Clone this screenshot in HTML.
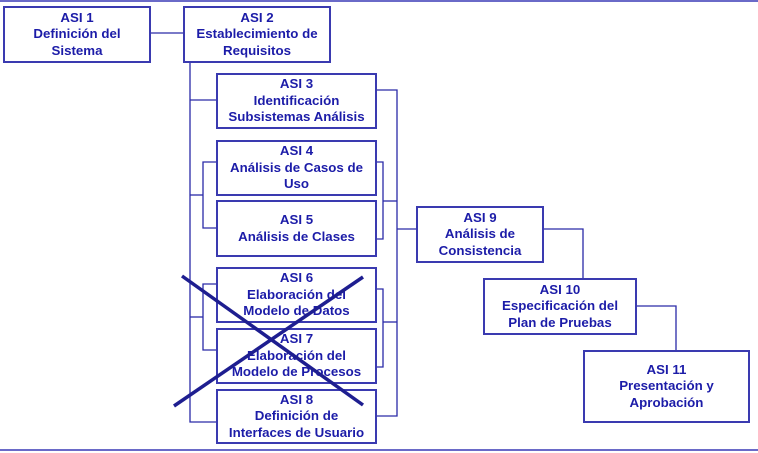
<!DOCTYPE html>
<html><head><meta charset="utf-8"><style>
body{margin:0;width:758px;height:453px;background:#fff;position:relative;overflow:hidden;font-family:"Liberation Sans",sans-serif}
.b{position:absolute;box-sizing:border-box;border:2px solid #3a3ab0;background:#fff;color:#1c1ca8;font-weight:bold;font-size:13.3px;line-height:16.5px;text-align:center;display:flex;align-items:center;justify-content:center}
svg{position:absolute;left:0;top:0}
</style></head><body>
<svg width="758" height="453">
<g stroke="#2a2aa8" stroke-width="1.3" fill="none">
<line x1="0" y1="1" x2="758" y2="1" stroke="#6a6ac8" stroke-width="2"/>
<line x1="0" y1="450" x2="758" y2="450" stroke="#6a6ac8" stroke-width="2"/>
<line x1="150" y1="33" x2="183" y2="33"/>
<polyline points="190,62 190,422 216,422"/>
<line x1="190" y1="100" x2="216" y2="100"/>
<line x1="190" y1="195" x2="203" y2="195"/>
<polyline points="216,162 203,162 203,228 216,228"/>
<line x1="190" y1="317" x2="203" y2="317"/>
<polyline points="216,284 203,284 203,350 216,350"/>
<polyline points="376,162 383,162 383,239 376,239"/>
<line x1="383" y1="201" x2="397" y2="201"/>
<polyline points="376,289 383,289 383,367 376,367"/>
<line x1="383" y1="322" x2="397" y2="322"/>
<polyline points="376,90 397,90 397,416 376,416"/>
<line x1="397" y1="229" x2="416" y2="229"/>
<polyline points="543,229 583,229 583,278"/>
<polyline points="636,306 676,306 676,350"/>
</g>
</svg>
<div class="b" style="left:3px;top:6px;width:148px;height:57px">ASI 1<br>Definición del<br>Sistema</div>
<div class="b" style="left:183px;top:6px;width:148px;height:57px">ASI 2<br>Establecimiento de<br>Requisitos</div>
<div class="b" style="left:216px;top:73px;width:161px;height:56px">ASI 3<br>Identificación<br>Subsistemas Análisis</div>
<div class="b" style="left:216px;top:140px;width:161px;height:56px">ASI 4<br>Análisis de Casos de<br>Uso</div>
<div class="b" style="left:216px;top:200px;width:161px;height:57px">ASI 5<br>Análisis de Clases</div>
<div class="b" style="left:216px;top:267px;width:161px;height:56px">ASI 6<br>Elaboración del<br>Modelo de Datos</div>
<div class="b" style="left:216px;top:328px;width:161px;height:56px">ASI 7<br>Elaboración del<br>Modelo de Procesos</div>
<div class="b" style="left:216px;top:389px;width:161px;height:55px">ASI 8<br>Definición de<br>Interfaces de Usuario</div>
<div class="b" style="left:416px;top:206px;width:128px;height:57px">ASI 9<br>Análisis de<br>Consistencia</div>
<div class="b" style="left:483px;top:278px;width:154px;height:57px">ASI 10<br>Especificación del<br>Plan de Pruebas</div>
<div class="b" style="left:583px;top:350px;width:167px;height:73px">ASI 11<br>Presentación y<br>Aprobación</div>
<svg width="758" height="453"><g stroke="#1e1e90" stroke-width="3.5">
<line x1="182" y1="276" x2="363" y2="405"/>
<line x1="363" y1="277" x2="174" y2="406"/>
</g></svg>
</body></html>
